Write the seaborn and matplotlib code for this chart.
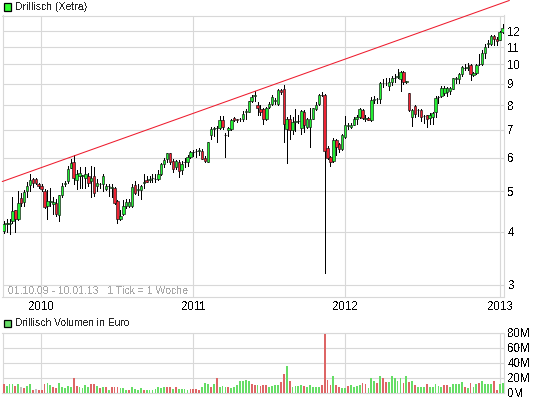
import numpy as np
import matplotlib
matplotlib.use("Agg")
import matplotlib.pyplot as plt
from matplotlib.patches import Rectangle
import seaborn as sns

# weekly candles, 01.10.09 - 10.01.13 (Euro)
opens = [
    4.03, 4.17, 4.18, 4.24, 4.52, 4.29, 4.81, 4.72, 5.00, 5.17,
    5.33, 5.33, 5.19, 5.13, 5.00, 4.60, 4.72, 4.66, 4.69, 4.39,
    4.89, 5.20, 5.30, 5.68, 5.85, 5.32, 5.42, 5.43, 5.38, 5.44,
    5.30, 5.42, 5.14, 5.20, 5.20, 5.05, 5.13, 5.10, 5.09, 4.75,
    4.30, 4.41, 4.60, 4.60, 4.60, 5.17, 5.02, 5.03, 5.24, 5.32,
    5.32, 5.36, 5.35, 5.34, 5.50, 5.80, 5.95, 6.15, 5.90, 5.70,
    5.88, 5.62, 5.85, 5.86, 6.04, 6.18, 6.24, 6.22, 6.24, 5.99,
    5.88, 6.80, 7.04, 7.05, 7.05, 7.38, 6.80, 6.98, 7.02, 7.45,
    7.40, 7.40, 7.42, 7.72, 7.72, 8.17, 8.42, 8.00, 7.82, 7.82,
    7.43, 7.93, 8.07, 8.20, 8.05, 8.68, 8.76, 7.03, 7.43, 7.00,
    7.30, 7.34, 7.05, 7.72, 7.12, 7.12, 7.43, 7.85, 8.05, 8.47,
    8.48, 6.33, 6.02, 5.90, 6.60, 6.47, 6.30, 6.72, 7.15, 7.10,
    7.19, 7.42, 7.50, 7.80, 7.42, 7.45, 7.39, 8.25, 8.26, 8.26,
    9.03, 9.04, 8.90, 9.07, 9.26, 9.35, 9.25, 9.61, 9.10, 8.57,
    7.51, 7.98, 7.80, 7.79, 7.53, 7.58, 7.46, 7.50, 7.70, 8.35,
    8.42, 8.57, 8.58, 8.65, 8.76, 9.25, 9.25, 9.48, 9.80, 9.80,
    9.95, 9.43, 9.55, 10.00, 10.03, 10.65, 11.20, 11.20, 11.69, 11.50,
    11.46, 11.95,
]
highs = [
    4.25, 4.30, 4.30, 4.85, 4.52, 5.00, 4.95, 5.02, 5.26, 5.50,
    5.36, 5.36, 5.24, 5.20, 5.05, 5.03, 5.10, 4.85, 4.80, 4.90,
    5.23, 5.30, 5.73, 5.95, 6.10, 5.60, 5.70, 5.46, 5.70, 5.52,
    5.75, 5.70, 5.34, 5.22, 5.50, 5.20, 5.20, 5.20, 5.11, 4.76,
    4.50, 4.77, 4.80, 4.78, 5.20, 5.30, 5.20, 5.16, 5.48, 5.42,
    5.44, 5.48, 5.50, 5.60, 5.84, 5.98, 6.15, 6.16, 5.95, 5.92,
    5.92, 5.91, 5.98, 6.08, 6.24, 6.27, 6.30, 6.33, 6.30, 6.05,
    6.56, 7.10, 7.10, 7.15, 7.55, 7.55, 6.88, 7.10, 7.43, 7.50,
    7.42, 7.45, 7.75, 7.85, 8.20, 8.45, 8.63, 8.14, 8.01, 7.86,
    7.94, 8.14, 8.45, 8.33, 8.76, 8.76, 8.92, 7.50, 7.57, 7.50,
    7.85, 7.57, 7.80, 7.80, 7.48, 7.86, 7.89, 8.14, 8.52, 8.58,
    8.52, 6.40, 6.05, 6.68, 6.66, 6.50, 6.85, 7.55, 7.27, 7.27,
    7.50, 7.60, 7.90, 7.85, 7.60, 7.50, 8.35, 8.42, 8.33, 9.10,
    9.25, 9.30, 9.30, 9.40, 9.50, 9.75, 9.65, 9.65, 9.15, 8.57,
    7.82, 8.00, 7.85, 7.85, 7.60, 7.60, 7.68, 7.70, 8.42, 8.42,
    8.90, 8.90, 8.85, 8.85, 9.30, 9.33, 9.55, 9.90, 10.00, 10.10,
    10.00, 9.60, 10.05, 10.60, 10.85, 11.20, 11.40, 11.75, 11.72, 11.60,
    12.00, 12.50,
]
lows = [
    3.97, 4.00, 3.96, 4.20, 3.99, 4.28, 4.60, 4.60, 4.85, 5.00,
    5.12, 5.20, 5.10, 5.00, 4.55, 4.30, 4.60, 4.41, 4.37, 4.25,
    4.85, 5.15, 5.23, 5.68, 5.19, 5.07, 5.10, 5.10, 5.10, 5.13,
    4.85, 4.87, 5.00, 5.10, 5.00, 5.03, 4.87, 4.83, 4.67, 4.20,
    4.28, 4.38, 4.57, 4.58, 4.58, 4.93, 4.90, 4.78, 5.08, 5.25,
    5.25, 5.25, 5.25, 5.32, 5.45, 5.70, 5.88, 5.80, 5.55, 5.65,
    5.40, 5.49, 5.72, 5.74, 6.00, 6.05, 6.02, 6.10, 5.97, 5.87,
    5.87, 6.65, 6.75, 6.55, 7.02, 7.03, 6.02, 6.77, 6.98, 7.35,
    7.30, 7.35, 7.35, 7.43, 7.70, 8.14, 8.20, 7.60, 7.57, 7.21,
    7.39, 7.89, 8.00, 8.07, 8.00, 8.52, 6.55, 5.83, 6.66, 6.85,
    6.95, 7.25, 6.85, 6.90, 7.05, 6.36, 7.40, 7.80, 8.00, 8.40,
    3.20, 5.95, 5.75, 5.85, 6.10, 6.20, 6.27, 6.68, 7.03, 7.05,
    7.17, 7.20, 7.45, 7.40, 7.35, 7.37, 7.33, 8.10, 8.10, 8.10,
    8.85, 8.95, 8.70, 8.95, 9.10, 9.30, 8.65, 9.00, 9.05, 7.75,
    7.13, 7.50, 7.55, 7.35, 7.25, 7.10, 7.20, 7.20, 7.50, 8.10,
    8.35, 8.45, 8.42, 8.50, 8.72, 9.05, 9.05, 9.40, 9.70, 9.70,
    9.20, 9.37, 9.50, 9.95, 9.97, 10.35, 11.00, 11.10, 11.10, 11.10,
    11.40, 11.90,
]
closes = [
    4.18, 4.19, 4.19, 4.48, 4.29, 4.69, 4.69, 4.99, 5.15, 5.31,
    5.23, 5.23, 5.13, 5.06, 4.58, 4.73, 4.74, 4.71, 4.42, 4.89,
    5.15, 5.22, 5.65, 5.83, 5.36, 5.50, 5.52, 5.45, 5.48, 5.23,
    5.37, 4.95, 5.23, 5.21, 5.43, 5.13, 5.14, 5.11, 4.69, 4.29,
    4.37, 4.60, 4.71, 4.70, 5.12, 4.95, 5.05, 5.13, 5.26, 5.26,
    5.33, 5.37, 5.34, 5.50, 5.79, 5.93, 6.15, 5.85, 5.65, 5.91,
    5.58, 5.80, 5.86, 6.02, 6.20, 6.20, 6.22, 6.25, 5.97, 5.89,
    6.55, 7.03, 7.05, 7.08, 7.38, 7.12, 6.78, 7.05, 7.38, 7.38,
    7.39, 7.41, 7.62, 7.74, 8.17, 8.35, 8.44, 7.88, 7.72, 7.42,
    7.86, 8.07, 8.35, 8.22, 8.70, 8.58, 7.20, 7.43, 7.00, 7.28,
    7.34, 7.35, 7.74, 7.19, 7.42, 7.43, 7.86, 8.03, 8.45, 8.48,
    6.24, 6.00, 5.86, 6.62, 6.35, 6.30, 6.80, 7.19, 7.17, 7.17,
    7.42, 7.50, 7.85, 7.46, 7.45, 7.39, 8.22, 8.26, 8.27, 9.04,
    9.04, 9.05, 9.10, 9.28, 9.27, 9.37, 9.57, 9.07, 9.11, 7.79,
    7.79, 7.63, 7.78, 7.51, 7.54, 7.43, 7.58, 7.67, 8.33, 8.38,
    8.77, 8.77, 8.77, 8.80, 9.28, 9.27, 9.48, 9.85, 9.82, 9.84,
    9.48, 9.55, 9.97, 10.03, 10.65, 11.02, 11.22, 11.69, 11.50, 11.35,
    11.95, 12.20,
]

# weekly volume in million Euro
volumes = [
    11, 9, 11, 12, 9, 12, 7, 6, 9, 12,
    4, 5, 3, 4, 12, 13, 10, 7, 6, 13,
    8, 6, 9, 8, 20, 9, 7, 6, 10, 8,
    11, 11, 9, 6, 8, 8, 4, 7, 8, 8,
    6, 6, 4, 3, 8, 5, 3, 6, 3, 4,
    4, 4, 5, 7, 6, 8, 8, 7, 5, 8,
    5, 5, 5, 3, 5, 5, 5, 4, 8, 13,
    12, 8, 11, 19, 8, 9, 8, 7, 6, 8,
    10, 16, 15, 17, 16, 11, 10, 10, 9, 10,
    10, 8,
    9, 10, 10, 14, 25, 35, 15, 8, 9, 9,
    10, 9, 7, 10, 7, 7, 7, 10, 78, 17,
    10, 22, 10, 7, 6, 6, 9, 10, 7, 9,
    10, 13, 12, 6, 19, 16, 13, 22, 20, 14,
    14, 22, 19, 15, 19, 13, 22, 14, 15, 10,
    7, 7, 7, 11, 7, 7, 11, 9, 7, 10,
    10, 7, 11, 11, 11, 14, 8, 6, 13, 7,
    11, 13, 16, 11, 11, 11, 15, 4, 11, 13,
]
# g = up, r = down, n = unchanged
volume_dirs = (
    "rgggrgnrgg" "rnrrrggrrg" "ggggrrgggg" "rrgrgrgrrr" "gggrggggrg"
    "ggggggrrgr" "ggggrrrrgg" "grgrgggrgg" "gggggrrgrr" "rg"
    "gggrrgrggg" "grgggggrrr" "rgrrggrggg" "grrgggrgrr" "gggggrgrgr"
    "gggrgggggr" "rgggggrgrg" "grggggrrgg"
)

year_weeks = [12.9, 65.0, 117.0, 170.2]
year_labels = ["2010", "2011", "2012", "2013"]
price_ticks = [3, 4, 5, 6, 7, 8, 9, 10, 11, 12]
volume_ticks = [0, 20, 40, 60, 80]
volume_labels = ["0M", "20M", "40M", "60M", "80M"]
trend_weeks = [-0.5, 173.3]
trend_prices = [5.27, 14.19]

GRID = "#d8d8d8"
W, H = 545, 401


def px_axes(fig, left, top, right, bottom):
    return fig.add_axes([left / W, 1 - bottom / H, (right - left) / W, (bottom - top) / H])


def style_axes(ax):
    ax.set_facecolor("white")
    ax.grid(True, color=GRID, linewidth=0.8)
    ax.set_axisbelow(True)
    for spine in ax.spines.values():
        spine.set_color(GRID)
        spine.set_linewidth(0.8)
    ax.yaxis.tick_right()
    ax.tick_params(length=0, labelsize=8.3, colors="black", pad=3)
    ax.tick_params(axis="y", which="minor", length=0)
    ax.set_xlim(-0.41, 171.3)
    ax.set_xticks(year_weeks)
    ax.set_xlabel("")
    ax.set_ylabel("")


sns.set_style("white")
plt.rcParams["font.family"] = ["Liberation Sans", "DejaVu Sans"]
plt.rcParams["text.antialiased"] = False

weeks = np.arange(len(closes))
opens_a, closes_a = np.array(opens), np.array(closes)
up = closes_a >= opens_a

fig = plt.figure(figsize=(W / 100, H / 100), dpi=100, facecolor="white")

# Kurschart
ax = px_axes(fig, 2.5, 15.5, 503.5, 296.5)
ax.set_yscale("log")
ax.set_ylim(2.81, 13.07)
ax.vlines(weeks, lows, highs, color="black", linewidth=0.72, antialiased=False, zorder=3)
body_low = np.minimum(opens_a, closes_a)
body_height = np.abs(closes_a - opens_a)
body_colors = ["#22ee33" if u else "#ee2233" for u in up]
ax.bar(weeks, body_height, bottom=body_low, width=0.85, color=body_colors,
       edgecolor="#111111", linewidth=0.45, zorder=4)
sns.lineplot(x=trend_weeks, y=trend_prices, ax=ax, color="#ee1c2e", linewidth=0.75,
             clip_on=False, zorder=5, legend=False)
style_axes(ax)
ax.set_yticks(price_ticks)
ax.set_yticklabels([str(t) for t in price_ticks])
ax.minorticks_off()
ax.set_xticklabels(year_labels)
ax.tick_params(axis="x", pad=3)

# Volumen
ax_vol = px_axes(fig, 2.5, 332.5, 503.5, 392.5)
sns.barplot(x=weeks, y=volumes, hue=list(volume_dirs), ax=ax_vol, native_scale=True,
            palette={"g": "#66dd66", "r": "#dd6666", "n": "#c0c0c0"},
            dodge=False, width=0.62, legend=False, linewidth=0, saturation=1, zorder=3)
style_axes(ax_vol)
ax_vol.set_ylim(0, 80)
ax_vol.set_yticks(volume_ticks)
ax_vol.set_yticklabels(volume_labels)
ax_vol.set_xticklabels([])

# Titel und Legendenkästchen
fig.add_artist(Rectangle((3.5 / W, 1 - 10.5 / H), 7 / W, 7 / H, transform=fig.transFigure,
                         facecolor="#33ff33", edgecolor="black", linewidth=0.9))
fig.text(15 / W, 1 - 7 / H, "Drillisch (Xetra)", fontsize=7.6, va="center", ha="left")
fig.add_artist(Rectangle((3.5 / W, 1 - 326.5 / H), 7 / W, 7 / H, transform=fig.transFigure,
                         facecolor="#66dd66", edgecolor="black", linewidth=0.9))
fig.text(15 / W, 1 - 323.5 / H, "Drillisch Volumen in Euro", fontsize=7.4, va="center", ha="left")
fig.text(8 / W, 1 - 290.5 / H, "01.10.09 - 10.01.13   1 Tick = 1 Woche", fontsize=7.6,
         va="center", ha="left", color="#a8a8a8")

fig.savefig("out.png", dpi=100)
